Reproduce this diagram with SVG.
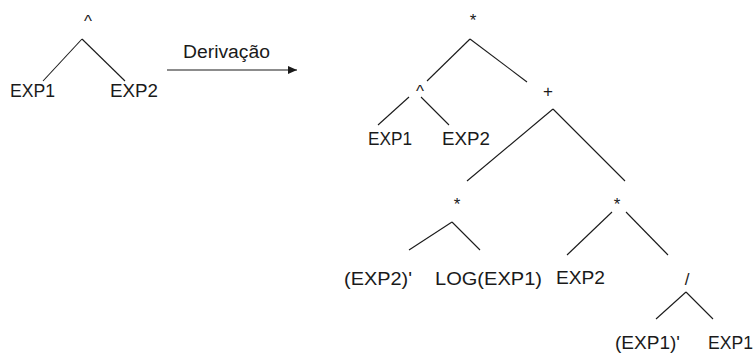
<svg xmlns="http://www.w3.org/2000/svg" width="756" height="358" viewBox="0 0 756 358">
<style>
text{font-family:"Liberation Sans",Arial,sans-serif;font-size:18px;fill:#1a1a1a}
.op{text-anchor:middle;font-size:17px}
line{stroke:#1a1a1a;stroke-width:1.1}
</style>
<defs>
<marker id="ah" markerWidth="10" markerHeight="10" refX="9" refY="4" orient="auto" markerUnits="userSpaceOnUse">
<path d="M0,0 L9,4 L0,8 Z" fill="#1a1a1a"/>
</marker>
</defs>
<rect width="756" height="358" fill="#ffffff"/>
<g id="connectors">
<line x1="82" y1="39" x2="43" y2="81"/>
<line x1="82" y1="39" x2="125" y2="81"/>
<line x1="167" y1="70" x2="297" y2="70" marker-end="url(#ah)"/>
<line x1="470" y1="39" x2="427" y2="81"/>
<line x1="470" y1="39" x2="527" y2="82"/>
<line x1="409" y1="97" x2="378" y2="125"/>
<line x1="421" y1="97" x2="449" y2="125"/>
<line x1="553" y1="109" x2="467" y2="181"/>
<line x1="553" y1="109" x2="625" y2="181"/>
<line x1="452" y1="222" x2="409" y2="250"/>
<line x1="452" y1="222" x2="480" y2="250"/>
<line x1="612" y1="212" x2="567" y2="255"/>
<line x1="626" y1="212" x2="668" y2="255"/>
<line x1="686" y1="292" x2="656" y2="319"/>
<line x1="686" y1="292" x2="713" y2="319"/>
</g>
<g id="left-pow"><text class="op" x="88" y="27">^</text></g>
<g id="left-exp1"><text x="10" y="97" textLength="45" lengthAdjust="spacingAndGlyphs">EXP1</text></g>
<g id="left-exp2"><text x="110" y="97" textLength="48" lengthAdjust="spacingAndGlyphs">EXP2</text></g>
<g id="arrow-label"><text x="183" y="58" textLength="87" lengthAdjust="spacingAndGlyphs">Derivação</text></g>
<g id="root-mul"><text class="op" x="473" y="26">*</text></g>
<g id="pow"><text class="op" x="420" y="97">^</text></g>
<g id="exp1-a"><text x="368" y="145" textLength="44" lengthAdjust="spacingAndGlyphs">EXP1</text></g>
<g id="exp2-a"><text x="442" y="145" textLength="48" lengthAdjust="spacingAndGlyphs">EXP2</text></g>
<g id="plus"><text class="op" x="548" y="97">+</text></g>
<g id="mul-left"><text class="op" x="457" y="210">*</text></g>
<g id="mul-right"><text class="op" x="617" y="210">*</text></g>
<g id="exp2-deriv"><text x="344" y="285" textLength="68" lengthAdjust="spacingAndGlyphs">(EXP2)'</text></g>
<g id="log"><text x="435" y="285" textLength="107" lengthAdjust="spacingAndGlyphs">LOG(EXP1)</text></g>
<g id="exp2-b"><text x="556" y="284" textLength="49" lengthAdjust="spacingAndGlyphs">EXP2</text></g>
<g id="div"><text class="op" x="687" y="285">/</text></g>
<g id="exp1-deriv"><text x="615" y="349" textLength="65" lengthAdjust="spacingAndGlyphs">(EXP1)'</text></g>
<g id="exp1-b"><text x="708" y="349" textLength="45" lengthAdjust="spacingAndGlyphs">EXP1</text></g>
</svg>
